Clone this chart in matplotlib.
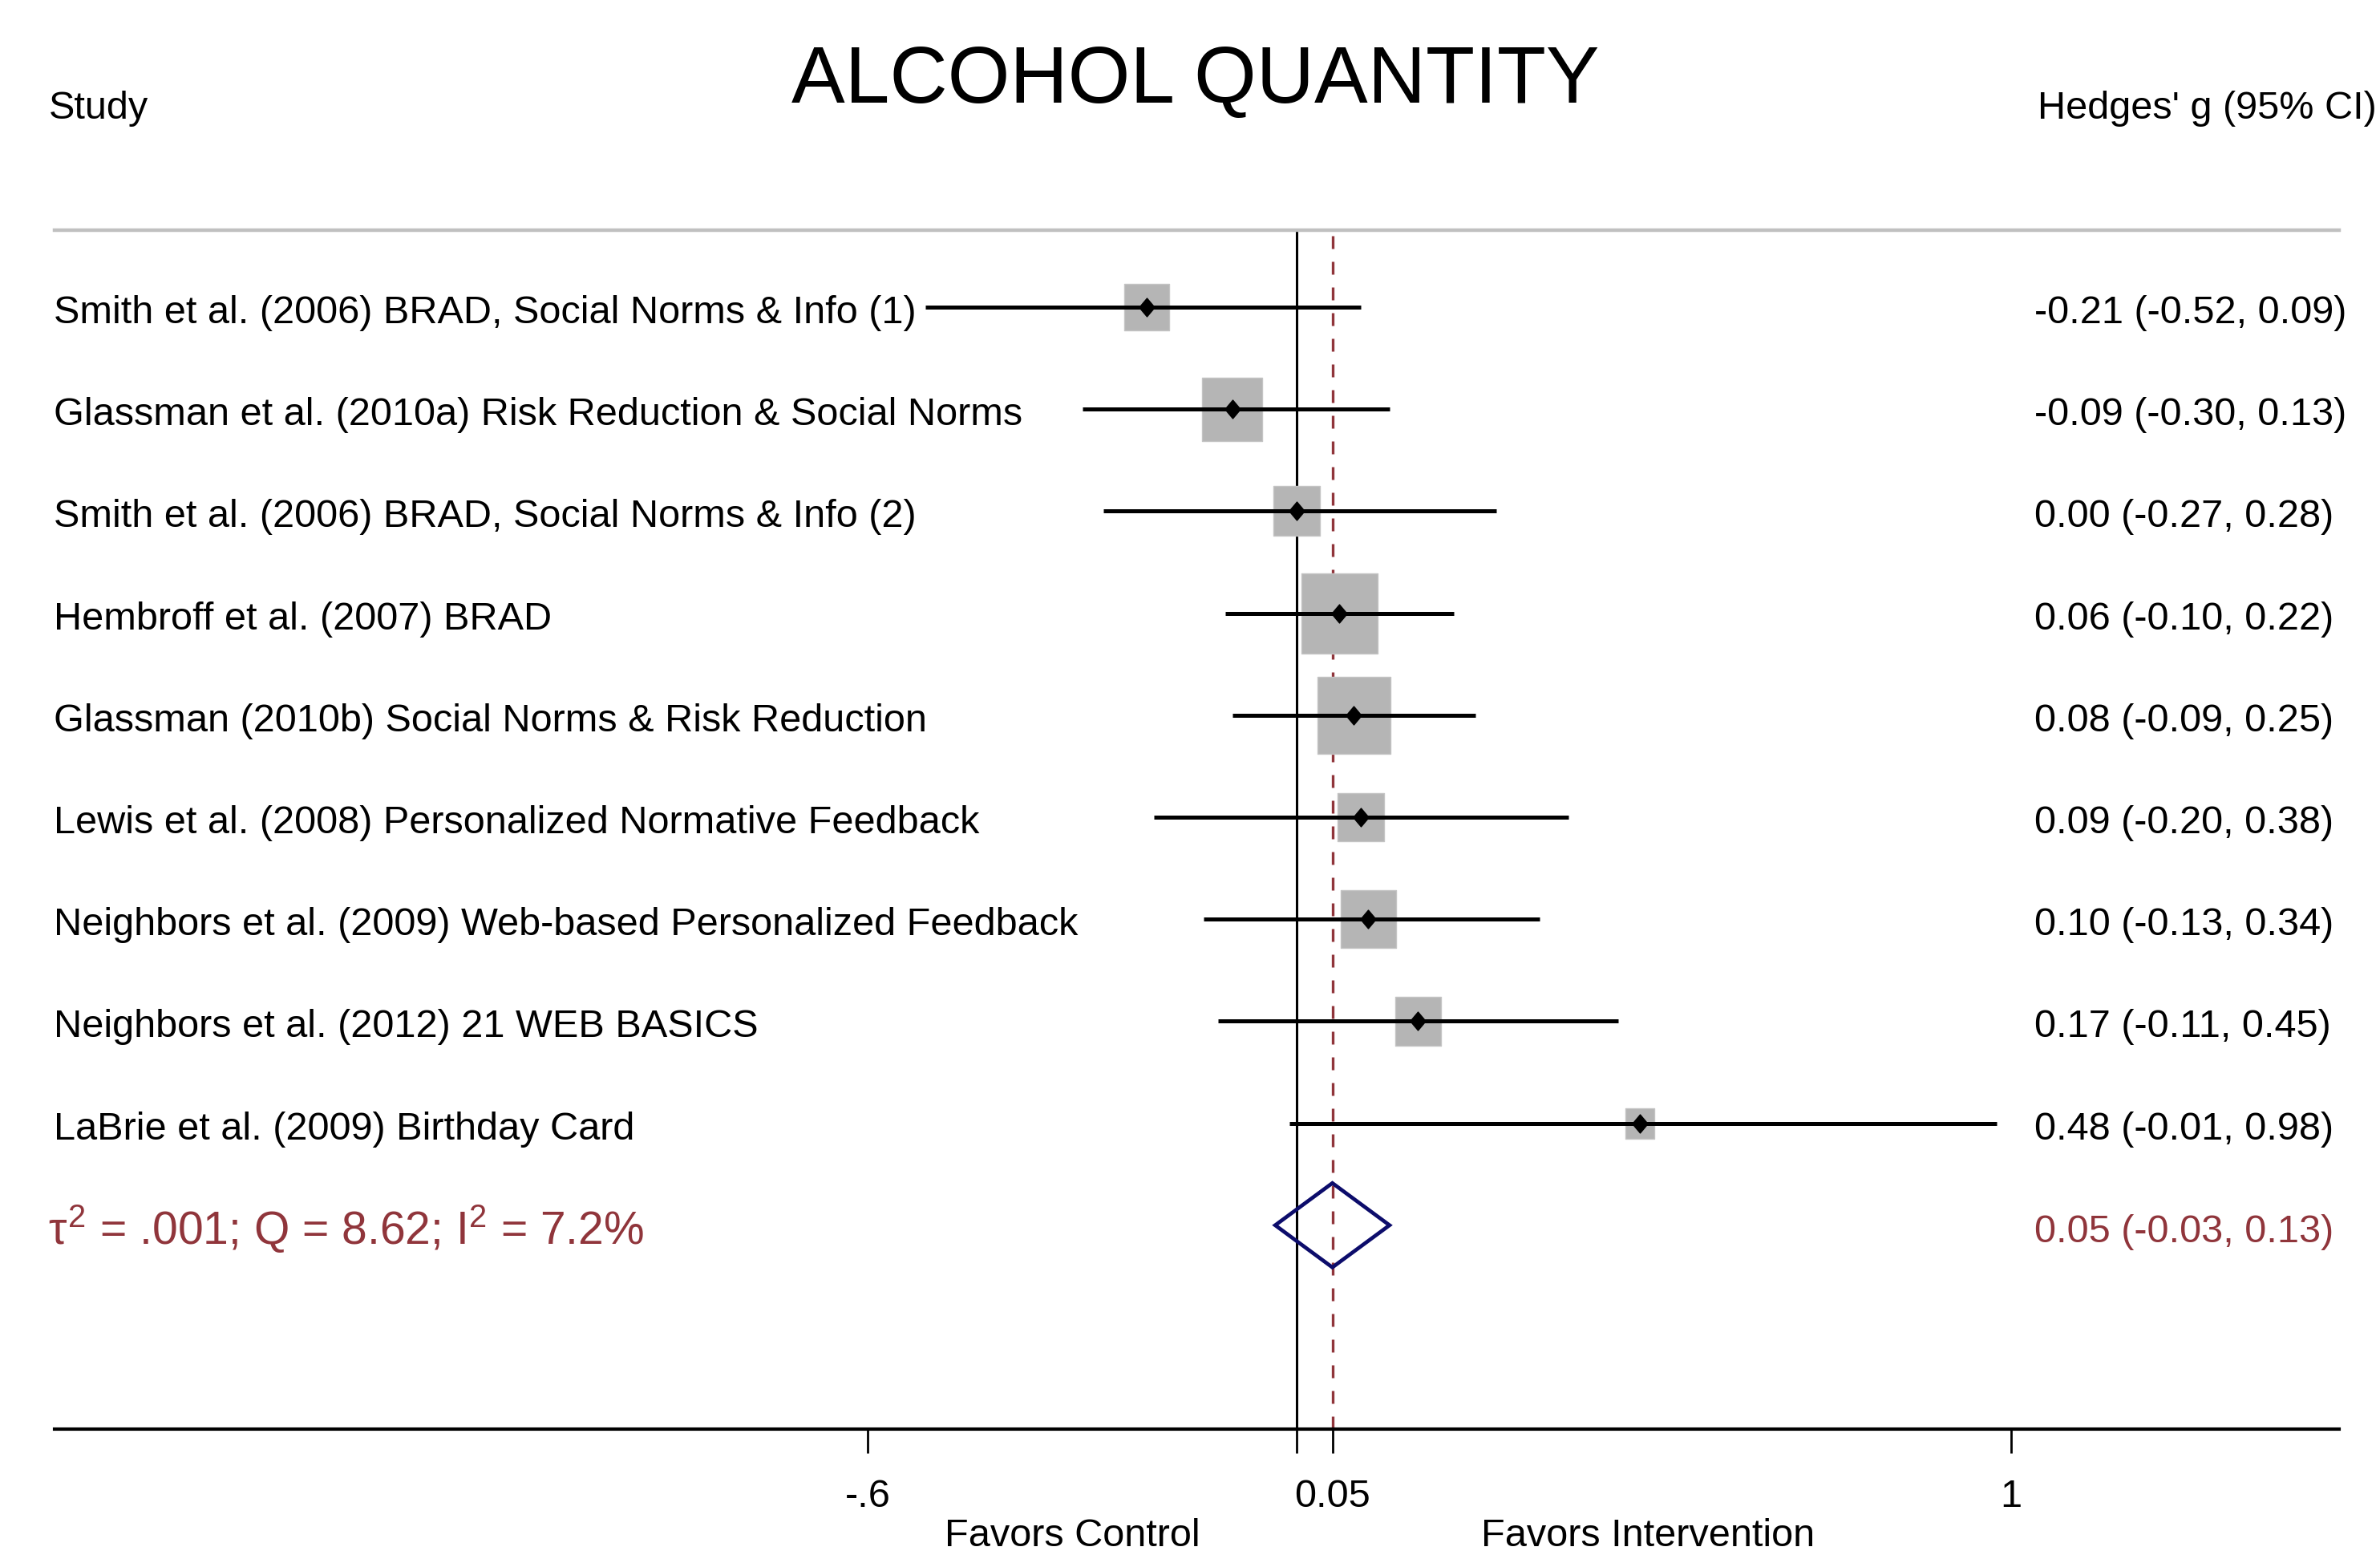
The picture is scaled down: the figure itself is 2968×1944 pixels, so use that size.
import matplotlib
matplotlib.use("Agg")
import matplotlib.pyplot as plt
import matplotlib.transforms as mtransforms
from matplotlib.patches import Rectangle, Polygon
from matplotlib.path import Path
import numpy as np

# ---------------- data ----------------
studies = [
    "Smith et al. (2006) BRAD, Social Norms & Info (1)",
    "Glassman et al. (2010a) Risk Reduction & Social Norms",
    "Smith et al. (2006) BRAD, Social Norms & Info (2)",
    "Hembroff et al. (2007) BRAD",
    "Glassman (2010b) Social Norms & Risk Reduction",
    "Lewis et al. (2008) Personalized Normative Feedback",
    "Neighbors et al. (2009) Web-based Personalized Feedback",
    "Neighbors et al. (2012) 21 WEB BASICS",
    "LaBrie et al. (2009) Birthday Card",
]
effects = [-0.21, -0.09, 0.00, 0.06, 0.08, 0.09, 0.10, 0.17, 0.48]
ci_low = [-0.52, -0.30, -0.27, -0.10, -0.09, -0.20, -0.13, -0.11, -0.01]
ci_high = [0.09, 0.13, 0.28, 0.22, 0.25, 0.38, 0.34, 0.45, 0.98]
weights = [7.4, 13.3, 8.2, 21.3, 19.6, 7.9, 11.2, 7.9, 3.1]  # percent (box area)

pooled = 0.05
pooled_low = -0.03
pooled_high = 0.13
het_label = r"$\tau^2$ = .001; Q = 8.62; I$^2$ = 7.2%"

title = "ALCOHOL QUANTITY"
left_header = "Study"
right_header = "Hedges' g (95% CI)"
tick_values = [-0.6, 0.0, 0.05, 1.0]
tick_labels = ["-.6", "", "0.05", "1"]
favors_left = "Favors Control"
favors_right = "Favors Intervention"

# ---------------- style ----------------
plt.rcParams["font.family"] = ["Liberation Sans", "DejaVu Sans"]
plt.rcParams["mathtext.fontset"] = "custom"
plt.rcParams["mathtext.rm"] = "Liberation Sans"
plt.rcParams["mathtext.it"] = "Liberation Sans"
plt.rcParams["mathtext.bf"] = "Liberation Sans:bold"

RED = "#90353B"
NAVY = "#0C0C6B"
BOXGRAY = "#B5B5B5"

W, H = 2968, 1944
DPI = 100
fig = plt.figure(figsize=(W / DPI, H / DPI), dpi=DPI)

# pixel geometry of the plotting area
ax_left, ax_right = 68, 2917
ax_top, ax_bottom = 287, 1782
x0_px, px_per_unit = 1617.0, 891.0
row1_px, row_step = 383.0, 127.2

ax = fig.add_axes([ax_left / W, 1 - ax_bottom / H,
                   (ax_right - ax_left) / W, (ax_bottom - ax_top) / H])
ax.set_xlim((ax_left - x0_px) / px_per_unit, (ax_right - x0_px) / px_per_unit)
ytop = 1 - (row1_px - ax_top) / row_step
ybot = 1 + (ax_bottom - row1_px) / row_step
ax.set_ylim(ybot, ytop)

for s in ["left", "right"]:
    ax.spines[s].set_visible(False)
ax.spines["bottom"].set_linewidth(3.0)
ax.spines["bottom"].set_color("black")
ax.spines["top"].set_linewidth(3.2)
ax.spines["top"].set_color("#C0C0C0")
ax.set_yticks([])
ax.set_xticks(tick_values)
ax.set_xticklabels([""] * len(tick_values))
ax.tick_params(axis="x", length=21.6, width=2.0, color="black", direction="out")

n = len(studies)
rows = np.arange(1, n + 1)
sum_row = n + 1

# reference lines
ax.axvline(0, color="black", lw=2.2, zorder=1)
ax.plot([pooled, pooled], [ybot, ytop + 5 / row_step], color=RED, lw=2.4,
        dashes=(4.8, 4.8), zorder=1, clip_on=False)

# boxes
for r, e, w in zip(rows, effects, weights):
    side_px = 20.6 * np.sqrt(w)
    bw = side_px / px_per_unit
    bh = side_px * 1.05 / row_step
    ax.add_patch(Rectangle((e - bw / 2, r - bh / 2), bw, bh, facecolor=BOXGRAY,
                           edgecolor="#C4C4C4", lw=1.0, joinstyle="round", zorder=2))

# confidence intervals
ax.hlines(rows, ci_low, ci_high, color="black", lw=3.6, zorder=3)

# point estimates (diamonds, slightly taller than wide)
diamond = Path([(0, 0.5), (0.42, 0), (0, -0.5), (-0.42, 0), (0, 0.5)],
               [Path.MOVETO, Path.LINETO, Path.LINETO, Path.LINETO, Path.CLOSEPOLY])
ax.plot(effects, rows, linestyle="none", marker=diamond, markersize=16.5,
        color="black", zorder=4)

# pooled diamond
hh = 0.413
ax.add_patch(Polygon([(pooled_low, sum_row), (pooled, sum_row - hh),
                      (pooled_high, sum_row), (pooled, sum_row + hh)],
                     closed=True, fill=False, edgecolor=NAVY, lw=3.4,
                     joinstyle="miter", zorder=5))

# ---------------- text ----------------
def fx(x):
    return x / W

def fy(y):
    return 1 - y / H

fs = 35
fig.text(fx(1491), fy(128), title, fontsize=72, ha="center", va="baseline")
fig.text(fx(61), fy(148), left_header, fontsize=fs, ha="left", va="baseline")
fig.text(fx(2541), fy(148), right_header, fontsize=fs, ha="left", va="baseline")

for i, (name, e, lo, hi) in enumerate(zip(studies, effects, ci_low, ci_high)):
    base = row1_px + row_step * i + 20
    fig.text(fx(67), fy(base), name, fontsize=fs, ha="left", va="baseline")
    fig.text(fx(2537), fy(base), f"{e:.2f} ({lo:.2f}, {hi:.2f})",
             fontsize=fs, ha="left", va="baseline")

sum_base = row1_px + row_step * n + 21
fig.text(fx(60), fy(sum_base + 3), het_label, fontsize=41, ha="left",
         va="baseline", color=RED)
fig.text(fx(2537), fy(sum_base), f"{pooled:.2f} ({pooled_low:.2f}, {pooled_high:.2f})",
         fontsize=fs, ha="left", va="baseline", color=RED)

# tick labels
trans = mtransforms.blended_transform_factory(ax.transData, fig.transFigure)
for v, lab in zip(tick_values, tick_labels):
    if lab:
        ax.text(v, fy(1879), lab, transform=trans, fontsize=fs, ha="center",
                va="baseline", clip_on=False)

fig.text(fx(1337), fy(1928), favors_left, fontsize=fs, ha="center", va="baseline")
fig.text(fx(2055), fy(1928), favors_right, fontsize=fs, ha="center", va="baseline")

fig.savefig("out.png", dpi=DPI, facecolor="white")
